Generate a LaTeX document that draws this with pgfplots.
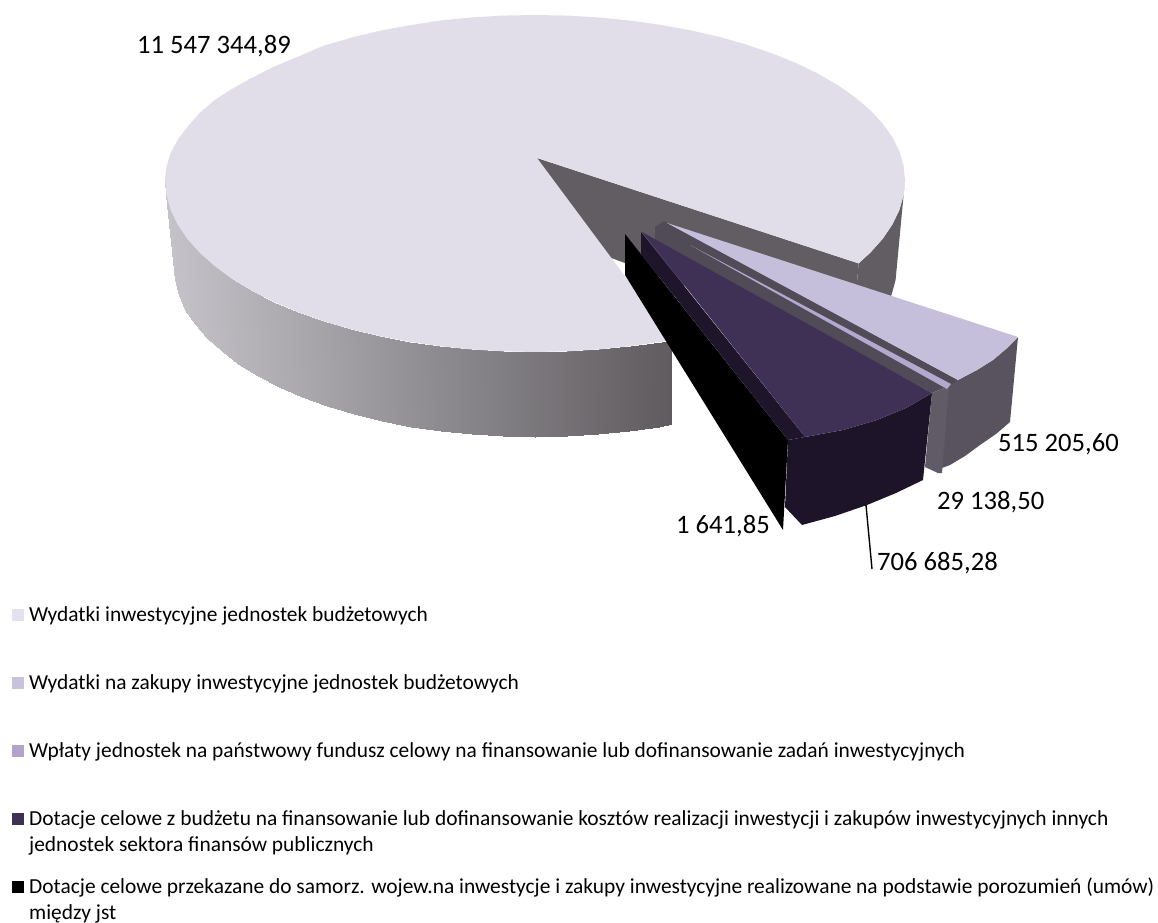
\documentclass[border=0pt]{standalone}
\usepackage{pgfplots}
\pgfplotsset{compat=1.18}
\usepackage{fontspec}
\setmainfont{Carlito}
\definecolor{topA}{HTML}{E1DEEA}
\definecolor{topB}{HTML}{C5BFDB}
\definecolor{topD}{HTML}{3F3156}
\definecolor{wallA}{HTML}{615D62}
\definecolor{wallB}{HTML}{59535F}
\definecolor{bandB}{HTML}{514B57}
\definecolor{wallC}{HTML}{605B67}
\definecolor{lineC}{HTML}{B3A9CF}
\definecolor{wallD}{HTML}{1D1429}
\definecolor{bandD}{HTML}{1F152B}
\definecolor{lg1}{HTML}{E4E0EE}
\definecolor{lg2}{HTML}{C9C2DC}
\definecolor{lg3}{HTML}{B3A2C9}
\definecolor{lg4}{HTML}{3F3153}
\newcommand{\lab}{\fontsize{26.7}{30}\selectfont}
\newcommand{\leg}{\fontsize{21.5}{26}\selectfont}
\begin{document}
\begin{tikzpicture}
\begin{axis}[
  scale only axis, width=1158bp, height=922bp,
  xmin=0, xmax=1158, ymin=0, ymax=922, y dir=reverse,
  hide axis, clip=false,
  colormap={w}{rgb255(0)=(95,91,95); rgb255(1)=(197,195,201)},
  point meta min=0, point meta max=1
]
\path (axis cs:0,0) rectangle (axis cs:1158,922);
% back right wall
\addplot[fill=wallA, draw=none] coordinates {(905,180)(903.6,195)(899.4,209.9)(892.4,224.5)(882.7,238.8)(870.3,252.7)(858.6,263.4)(851.6,348.4)(863,337.7)(875.2,323.8)(884.7,309.5)(891.5,294.9)(895.6,280)(897,265)} --cycle;
% inner wall
\addplot[fill=wallA, draw=none] coordinates {(537,158)(858.6,263.4)(851.6,348.4)(537,230)} --cycle;
% front wall gradient
\addplot[surf, shader=interp, mesh/cols=24, point meta=explicit] table[meta=c] {
x y c
165 180 1
166.4 195 .997
170.6 209.9 .989
177.6 224.5 .975
187.3 238.8 .956
199.7 252.7 .932
214.6 266 .902
231.9 278.7 .868
251.6 290.6 .829
273.4 301.6 .786
297.2 311.8 .739
322.8 320.9 .689
350 329 .635
378.6 335.9 .579
408.5 341.6 .52
439.2 346.1 .459
470.8 349.4 .397
502.7 351.3 .334
535 352 .27
567.3 351.3 .207
599.2 349.4 .144
630.8 346.1 .081
661.5 341.6 .021
672 339.5 0
174 265 1
175.4 280 .997
178.5 294.9 .989
185.3 309.5 .975
194.8 323.8 .956
207 337.7 .932
221.5 351 .902
238.4 363.7 .868
257.7 375.6 .829
279 386.6 .786
302.3 396.8 .739
327.4 405.9 .689
354 414 .635
382 420.9 .579
411.2 426.6 .52
441.3 431.1 .459
472.2 434.4 .397
503.4 436.3 .334
535 437 .27
566.6 436.3 .207
597.8 434.4 .144
628.7 431.1 .081
658.8 426.6 .021
672 424 0
};
% main top face
\addplot[fill=topA, draw=none] coordinates {(537,158)(672,339.5)(661.5,341.6)(630.8,346.1)(599.2,349.4)(567.3,351.3)(535,352)(502.7,351.3)(470.8,349.4)(439.2,346.1)(408.5,341.6)(378.6,335.9)(350,329)(322.8,320.9)(297.2,311.8)(273.4,301.6)(251.6,290.6)(231.9,278.7)(214.6,266)(199.7,252.7)(187.3,238.8)(177.6,224.5)(170.6,209.9)(166.4,195)(165,180)(166.4,167)(170.6,153)(177.6,140)(187.3,127)(199.7,113)(214.6,100)(231.9,89)(251.6,78)(273.4,67)(297.2,57)(322.8,46)(350,38)(378.6,31)(408.5,25.5)(439.2,20.6)(470.8,17.5)(502.7,15.6)(535,15)(567.3,15.6)(599.2,17.5)(630.8,20.6)(661.5,25)(691.4,30.5)(720,37.1)(747.2,44.8)(772.8,53.6)(796.6,63.3)(818.4,73.9)(838.1,85.4)(855.4,97.5)(870.3,110.3)(882.7,123.6)(892.4,137.3)(899.4,151.3)(903.6,165.6)(905,180)(903.6,195)(899.4,209.9)(892.4,224.5)(882.7,238.8)(870.3,252.7)(858.6,263.4)} --cycle;
% slice 2
\addplot[fill=wallB, draw=none] coordinates {(1018,337)(1010,422)(996,434)(980,445)(965,456)(950,465)(942,468)(948,385)(958,380)(977,370)(993,360)(1006,349)} --cycle;
\addplot[fill=bandB, draw=none] coordinates {(664,221)(958,380)(949,386)(932,393)(655,241)(655,227)} --cycle;
\addplot[fill=topB, draw=none] coordinates {(667,223)(1018,337)(1006,349)(993,360)(977,370)(958,380)} --cycle;
% slice 3
\addplot[fill=wallC, draw=none] coordinates {(949,386)(942,473)(938,473)(925,467)(932,393)} --cycle;
\addplot[fill=lineC, draw=none] coordinates {(690,245)(951,384)(947,389)} --cycle;
% black slice
\addplot[fill=black, draw=none] coordinates {(625,234)(788,440)(783,530)(625,275)} --cycle;
% slice 4
\addplot[fill=bandD, draw=none] coordinates {(641,232)(805,437)(788,440)(641,254)} --cycle;
\addplot[fill=wallD, draw=none] coordinates {(932,393)(923,480)(896,493)(867,505)(835,516)(802,525)(785,507)(788,440)(805,437)(843,430)(877,420)(906,408)} --cycle;
\addplot[fill=topD, draw=none] coordinates {(642,232)(932,393)(906,408)(877,420)(843,430)(805,437)} --cycle;
% leader
\addplot[black, line width=1.4pt] coordinates {(866,505)(872,569)};
% legend swatches
\addplot[fill=lg1, draw=none] coordinates {(12,609)(24,609)(24,621)(12,621)} --cycle;
\addplot[fill=lg2, draw=none] coordinates {(12,677)(24,677)(24,689)(12,689)} --cycle;
\addplot[fill=lg3, draw=none] coordinates {(12,745)(24,745)(24,757)(12,757)} --cycle;
\addplot[fill=lg4, draw=none] coordinates {(12,813)(24,813)(24,825)(12,825)} --cycle;
\addplot[fill=black, draw=none] coordinates {(12,881)(24,881)(24,893)(12,893)} --cycle;
% labels
\node[anchor=base west, inner sep=0pt, font=\lab] at (axis cs:137,54) {11 547 344,89};
\node[anchor=base west, inner sep=0pt, font=\lab] at (axis cs:998,451) {515 205,60};
\node[anchor=base west, inner sep=0pt, font=\lab] at (axis cs:937,509) {29 138,50};
\node[anchor=base west, inner sep=0pt, font=\lab] at (axis cs:676,533) {1 641,85};
\node[anchor=base west, inner sep=0pt, font=\lab] at (axis cs:877,570) {706 685,28};
% legend texts
\node[anchor=base west, inner sep=0pt, font=\leg] at (axis cs:29,621) {Wydatki inwestycyjne jednostek budżetowych};
\node[anchor=base west, inner sep=0pt, font=\leg] at (axis cs:29,689) {Wydatki na zakupy inwestycyjne jednostek budżetowych};
\node[anchor=base west, inner sep=0pt, font=\leg] at (axis cs:29,757) {Wpłaty jednostek na państwowy fundusz celowy na finansowanie lub dofinansowanie zadań inwestycyjnych};
\node[anchor=base west, inner sep=0pt, font=\leg] at (axis cs:29,825) {Dotacje celowe z budżetu na finansowanie lub dofinansowanie kosztów realizacji inwestycji i zakupów inwestycyjnych innych};
\node[anchor=base west, inner sep=0pt, font=\leg] at (axis cs:29,851) {jednostek sektora finansów publicznych};
\node[anchor=base west, inner sep=0pt, font=\leg] at (axis cs:29,893) {Dotacje celowe przekazane do samorz. wojew.na inwestycje i zakupy inwestycyjne realizowane na podstawie porozumień (umów)};
\node[anchor=base west, inner sep=0pt, font=\leg] at (axis cs:29,919) {między jst};
\end{axis}
\end{tikzpicture}
\end{document}
